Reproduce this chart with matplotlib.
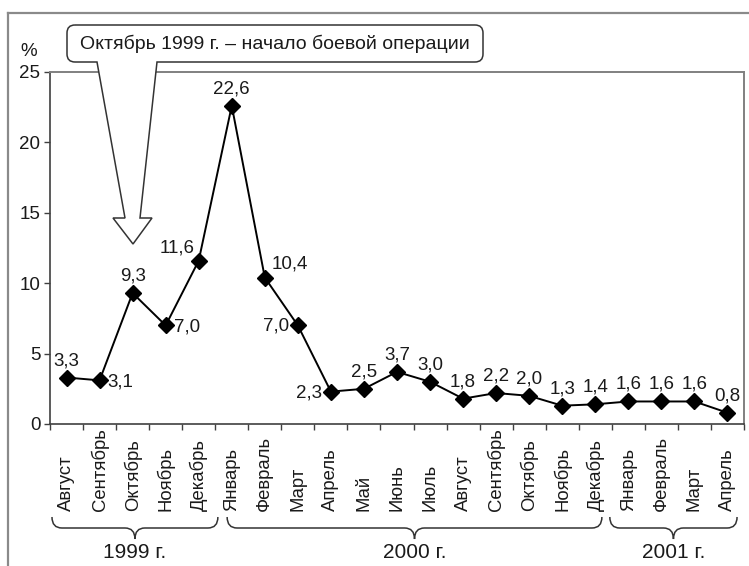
import matplotlib
matplotlib.use("Agg")
import matplotlib.pyplot as plt
import matplotlib.transforms as mtransforms
from matplotlib.path import Path
from matplotlib.patches import PathPatch
from matplotlib.lines import Line2D

plt.rcParams["font.family"] = ["Liberation Sans", "DejaVu Sans"]

# ---- data ----
months = ["Август", "Сентябрь", "Октябрь", "Ноябрь", "Декабрь",
          "Январь", "Февраль", "Март", "Апрель", "Май", "Июнь", "Июль",
          "Август", "Сентябрь", "Октябрь", "Ноябрь", "Декабрь",
          "Январь", "Февраль", "Март", "Апрель"]
values = [3.3, 3.1, 9.3, 7.0, 11.6, 22.6, 10.4, 7.0, 2.3, 2.5, 3.7, 3.0,
          1.8, 2.2, 2.0, 1.3, 1.4, 1.6, 1.6, 1.6, 0.8]
years = ["1999 г.", "2000 г.", "2001 г."]
year_counts = [5, 12, 4]
y_ticks = [0, 5, 10, 15, 20, 25]
note = "Октябрь 1999 г. – начало боевой операции"

# where each value label sits relative to its point (pixel offsets, ha)
label_place = {"above": (0, 17, "center"), "right": (8, -2, "left"),
               "left": (-9, -1, "right"), "ul": (-4, 13, "right"),
               "ur": (7, 14, "left")}
places = ["above", "right", "above", "right", "ul", "above", "ur", "left",
          "left"] + ["above"] * 12
# brace insets from the category boundaries (left, right), as drawn in the original
brace_pad = [(0.06, -0.08), (0.36, 0.3), (-0.06, 0.21)]

W, H = 749, 566
TXT = "#1a1a1a"


def fx(x):
    return x / W


def fy(y):
    return 1 - y / H


fig = plt.figure(figsize=(W / 100, H / 100), dpi=100)
ax = fig.add_axes([fx(50), fy(424), fx(744) - fx(50), fy(72) - fy(424)])

xs = [i + 0.5 for i in range(len(values))]
ax.plot(xs, values, "-", color="black", lw=1.4, marker="D", ms=8,
        mfc="black", mec="black", zorder=3)

for x, v, p in zip(xs, values, places):
    dx, dy, ha = label_place[p]
    ax.annotate(f"{v:.1f}".replace(".", ","), (x, v), xytext=(dx, dy),
                textcoords="offset pixels", ha=ha, va="center",
                fontsize=13.5, color=TXT)

ax.set_xlim(0, len(values))
ax.set_ylim(0, 25)
ax.set_yticks(y_ticks)
ax.set_yticklabels([str(t) for t in y_ticks], fontsize=13.5, color=TXT)
ax.set_xticks(range(len(values) + 1))
ax.set_xticklabels([])
ax.tick_params(axis="both", direction="out", length=4, width=1,
               color="#404040", pad=3)
for s in ["left", "bottom"]:
    ax.spines[s].set_color("#404040")
    ax.spines[s].set_linewidth(1.2)
for s in ["top", "right"]:
    ax.spines[s].set_color("#808080")
    ax.spines[s].set_linewidth(1.4)

fig.text(fx(29), fy(51), "%", fontsize=13.5, ha="center", va="center", color=TXT)

# month labels, rotated, bottom aligned
bt = mtransforms.blended_transform_factory(ax.transData, fig.transFigure)
for x, m in zip(xs, months):
    ax.text(x, fy(511), m, rotation=90, ha="center", va="bottom",
            fontsize=13.3, color=TXT, transform=bt, clip_on=False)

# year braces
y_top, y_mid, y_tip = fy(517), fy(528), fy(539)
start = 0
for yr, n, (p1, p2) in zip(years, year_counts, brace_pad):
    x1, x2 = start + p1, start + n - p2
    xm = (x1 + x2) / 2
    r = 0.3
    verts = [(x1, y_top), (x1, y_mid), (x1 + r, y_mid),
             (xm - r, y_mid),
             (xm, y_mid), (xm, y_tip),
             (xm, y_mid), (xm + r, y_mid),
             (x2 - r, y_mid),
             (x2, y_mid), (x2, y_top)]
    codes = [Path.MOVETO, Path.CURVE3, Path.CURVE3, Path.LINETO,
             Path.CURVE3, Path.CURVE3, Path.CURVE3, Path.CURVE3,
             Path.LINETO, Path.CURVE3, Path.CURVE3]
    ax.add_patch(PathPatch(Path(verts, codes), transform=bt, fill=False,
                           ec="#333333", lw=1.1, clip_on=False))
    ax.text(xm, fy(552), yr, ha="center", va="center", fontsize=15,
            color=TXT, transform=bt, clip_on=False)
    start += n

# callout box with arrow pointing at October 1999
bx1, by1, bx2, by2, rr = 67, 25, 483, 62, 8
pts = [(bx1 + rr, by1), (bx2 - rr, by1), (bx2, by1), (bx2, by1 + rr),
       (bx2, by2 - rr), (bx2, by2), (bx2 - rr, by2),
       (157, by2), (140, 218), (152, 218), (133, 244), (113, 218),
       (125, 218), (97, by2),
       (bx1 + rr, by2), (bx1, by2), (bx1, by2 - rr),
       (bx1, by1 + rr), (bx1, by1), (bx1 + rr, by1)]
codes = [Path.MOVETO, Path.LINETO, Path.CURVE3, Path.CURVE3,
         Path.LINETO, Path.CURVE3, Path.CURVE3,
         Path.LINETO, Path.LINETO, Path.LINETO, Path.LINETO, Path.LINETO,
         Path.LINETO, Path.LINETO,
         Path.LINETO, Path.CURVE3, Path.CURVE3,
         Path.LINETO, Path.CURVE3, Path.CURVE3]
callout = PathPatch(Path([(fx(a), fy(b)) for a, b in pts], codes),
                    transform=fig.transFigure, fc="white", ec="#333333",
                    lw=1.1, zorder=5)
fig.add_artist(callout)
fig.text(fx((bx1 + bx2) / 2), fy((by1 + by2) / 2), note, ha="center",
         va="center", fontsize=14, color=TXT, zorder=6)

# outer chart frame (top and left edges visible)
fig.add_artist(Line2D([fx(8), 1], [fy(13), fy(13)], color="#8a8a8a", lw=1.6,
                      transform=fig.transFigure))
fig.add_artist(Line2D([fx(8), fx(8)], [fy(13), 0], color="#8a8a8a", lw=1.6,
                      transform=fig.transFigure))

fig.savefig("out.png", dpi=100)
